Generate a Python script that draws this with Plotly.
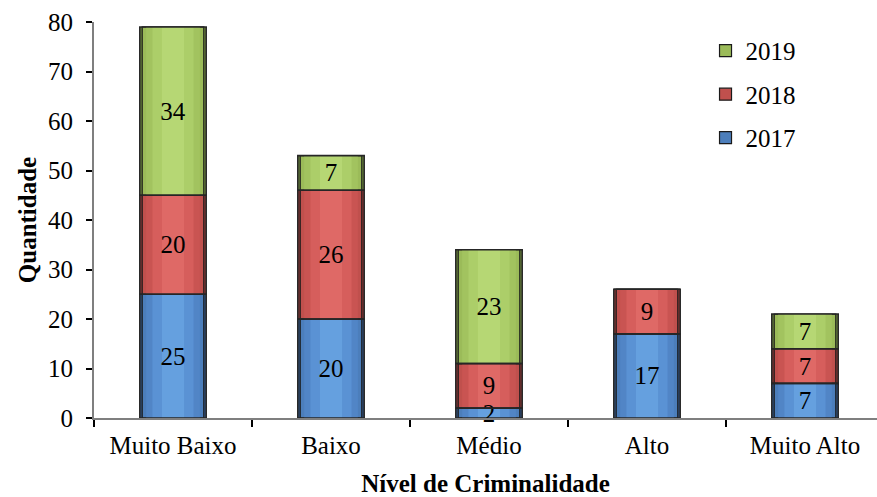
import plotly.graph_objects as go

# Counts per criminality level and year
categorias = ["Muito Baixo", "Baixo", "Médio", "Alto", "Muito Alto"]
anos = ["2017", "2018", "2019"]
valores_2017 = [25, 20, 2, 17, 7]
valores_2018 = [20, 26, 9, 9, 7]
valores_2019 = [34, 7, 23, 0, 7]
y_ticks = [0, 10, 20, 30, 40, 50, 60, 70, 80]

series = [valores_2017, valores_2018, valores_2019]

# Shading bands per series: from outer (darkest) to centre (lightest)
paletas = [
    ["#33598C", "#4C7EBB", "#5185C6", "#5A92D4", "#65A0DF"],
    ["#983B39", "#C0504D", "#C95452", "#D65E5C", "#DF6966"],
    ["#7A9843", "#9BBB59", "#A2C35F", "#ACCE69", "#B6D774"],
]
larguras = [0.42, 0.39, 0.34, 0.26, 0.14]
LEGEND_BAND = 1

FONT = "Times New Roman"
FS = 25

fig = go.Figure()

bases = []
base = [0] * len(categorias)
for vals in series:
    bases.append(base)
    base = [b + v for b, v in zip(base, vals)]

# filled bodies built from nested bands
for i, (ano, vals) in enumerate(zip(anos, series)):
    for k in range(len(larguras)):
        legend_band = k == LEGEND_BAND
        fig.add_trace(go.Bar(
            x=categorias, y=vals, base=bases[i], width=larguras[k],
            name=ano, legendgroup=ano, legendrank=100 - i,
            showlegend=legend_band,
            marker=dict(
                color=paletas[i][k],
                line=dict(color="#1a1a1a", width=1.2 if legend_band else 0),
            ),
            hoverinfo="skip" if not legend_band else None,
        ))

# outlines and value labels drawn over every body
for i, vals in enumerate(series):
    fig.add_trace(go.Bar(
        x=categorias, y=vals, base=bases[i], width=larguras[0],
        marker=dict(color="rgba(0,0,0,0)", line=dict(color="#262626", width=1.6)),
        text=[str(v) if v else "" for v in vals],
        textposition="inside", insidetextanchor="middle", textangle=0,
        textfont=dict(family=FONT, size=FS, color="black"),
        cliponaxis=False,
        showlegend=False, hoverinfo="skip",
    ))

fig.update_layout(
    width=877, height=497,
    margin=dict(l=94, r=0, t=22, b=79),
    barmode="overlay",
    plot_bgcolor="white", paper_bgcolor="white",
    font=dict(family=FONT, size=FS, color="black"),
    uniformtext=dict(minsize=FS, mode="show"),
    legend=dict(
        x=0.781, y=0.985, xanchor="left", yanchor="top",
        traceorder="grouped",
        tracegroupgap=8,
        font=dict(family=FONT, size=FS, color="black"),
        bgcolor="rgba(0,0,0,0)",
        itemwidth=30,
    ),
    xaxis=dict(
        type="category", categoryorder="array", categoryarray=categorias,
        range=[-0.5, -0.5 + 783 / 158],
        automargin=False,
        showline=True, linecolor="#7f7f7f", linewidth=2,
        ticks="outside", tickson="boundaries", ticklen=7, tickwidth=2, tickcolor="black",
        showgrid=False, zeroline=False,
        ticklabelstandoff=4,
        title=dict(text="<b>Nível de Criminalidade</b>", font=dict(family=FONT, size=FS), standoff=22),
        tickfont=dict(family=FONT, size=FS),
    ),
    yaxis=dict(
        range=[0, 80], tickvals=y_ticks,
        automargin=False,
        showline=True, linecolor="#7f7f7f", linewidth=2,
        ticks="outside", ticklen=6, tickwidth=2, tickcolor="black",
        showgrid=False, zeroline=False,
        ticklabelstandoff=8,
        title=dict(text="<b>Quantidade</b>", font=dict(family=FONT, size=FS), standoff=4),
        tickfont=dict(family=FONT, size=FS),
    ),
)

fig.write_html("out.html")
